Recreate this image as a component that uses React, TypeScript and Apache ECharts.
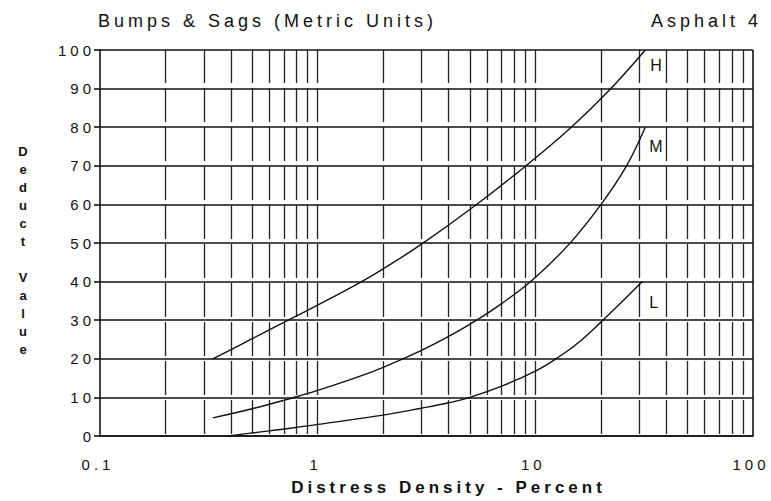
import React, { useEffect, useRef } from "react";
import * as echarts from "echarts";

const TITLE = "Bumps & Sags (Metric Units)";
const SUBTITLE = "Asphalt 4";
const X_NAME = "Distress Density - Percent";
const Y_NAME_LETTERS = ["D", "e", "d", "u", "c", "t", "", "V", "a", "l", "u", "e"];

const X_MIN = 0.1;
const X_MAX = 100;
const Y_MIN = 0;
const Y_MAX = 100;
const Y_STEP = 10;

// vertical dashed grid lines at 2..9 of each decade plus the decades
const GRID_X = [
  0.2, 0.3, 0.4, 0.5, 0.6, 0.7, 0.8, 0.9,
  1, 2, 3, 4, 5, 6, 7, 8, 9,
  10, 20, 30, 40, 50, 60, 70, 80, 90,
];

const SERIES_NAMES = ["H", "M", "L"];

const highCurve: [number, number][] = [
  [0.33, 20], [0.5, 25.2], [0.71, 29.6], [1, 33.9], [1.57, 39.8], [2, 43.3],
  [3, 49.7], [5.2, 59.4], [9, 69.9], [14.5, 79.8], [21.8, 89.5], [32, 100],
];
const mediumCurve: [number, number][] = [
  [0.33, 4.7], [0.5, 7.05], [0.79, 10.1], [1, 11.8], [1.5, 15.1], [2, 17.8],
  [3, 22.2], [4, 25.8], [5.4, 30.1], [7, 34.3], [9.7, 40.4], [14.4, 49.9],
  [19.8, 59.6], [26, 69.6], [32, 80],
];
const lowCurve: [number, number][] = [
  [0.39, 0], [0.5, 0.8], [0.75, 2.0], [1, 3.0], [2, 5.4], [3, 7.2], [4, 8.6],
  [5, 10], [7, 12.9], [10, 16.8], [12.6, 20.2], [15.85, 24.3], [20, 29.5],
  [25, 34.8], [31, 40],
];

const LABEL_OFFSETS: [number, number][] = [[0, 15], [0, 19], [0, 21]];
const LABEL_DIST = [5, 4, 7];

const FONT = "Liberation Sans";
const INK = "#111";

export default function App() {
  const ref = useRef<HTMLDivElement>(null);

  useEffect(() => {
    if (!ref.current) return;
    const chart = echarts.init(ref.current, undefined, { renderer: "svg" });
    const curves = [highCurve, mediumCurve, lowCurve];

    const series: any[] = curves.map((c, i) => ({
      name: SERIES_NAMES[i],
      type: "line",
      data: c,
      smooth: 0.4,
      symbol: "none",
      z: 5,
      lineStyle: { color: INK, width: 1.4 },
      endLabel: {
        show: true,
        formatter: SERIES_NAMES[i],
        distance: LABEL_DIST[i],
        offset: LABEL_OFFSETS[i],
        fontSize: 16,
        color: INK,
        fontFamily: FONT,
      },
    }));

    series[0].markLine = {
      silent: true,
      symbol: ["none", "none"],
      label: { show: false },
      animation: false,
      lineStyle: { color: "#222", width: 1.3, type: [34, 5], dashOffset: 36.5 },
      data: [
        ...GRID_X.map((v) => ({ xAxis: v })),
        { xAxis: X_MAX, lineStyle: { color: INK, width: 1.6, type: "solid" } },
      ],
    };

    chart.setOption({
      animation: false,
      textStyle: { fontFamily: FONT },
      grid: { left: 100, right: 18, top: 50, bottom: 60 },
      xAxis: {
        type: "log",
        logBase: 10,
        min: X_MIN,
        max: X_MAX,
        name: X_NAME,
        nameLocation: "middle",
        nameGap: 43,
        nameTextStyle: {
          fontSize: 17,
          fontWeight: "bold",
          color: INK,
          fontFamily: FONT,
          padding: [0, 0, 0, 44],
        },
        axisLine: { show: true, lineStyle: { color: INK, width: 1.6 } },
        axisTick: { show: false },
        splitLine: { show: false },
        axisLabel: {
          margin: 21,
          fontSize: 15,
          color: INK,
          padding: [0, 4, 0, 0],
          formatter: (v: number) => (v < 1 ? v.toFixed(1) : String(Math.round(v))),
        },
      },
      yAxis: {
        type: "value",
        min: Y_MIN,
        max: Y_MAX,
        interval: Y_STEP,
        axisLine: { show: true, lineStyle: { color: INK, width: 1.6 } },
        axisTick: { show: true, length: 6, lineStyle: { color: INK, width: 1.6 } },
        splitLine: { show: true, lineStyle: { color: INK, width: 1.6 } },
        axisLabel: { margin: 5, fontSize: 15, color: INK },
      },
      graphic: [
        {
          type: "text",
          x: 98,
          y: 21,
          style: {
            text: TITLE,
            fontSize: 18,
            fill: INK,
            fontFamily: FONT,
            align: "left",
            verticalAlign: "middle",
          },
        },
        {
          type: "text",
          x: 762,
          y: 21,
          style: {
            text: SUBTITLE,
            fontSize: 18,
            fill: INK,
            fontFamily: FONT,
            align: "right",
            verticalAlign: "middle",
          },
        },
        {
          type: "text",
          x: 25,
          y: 250,
          style: {
            text: Y_NAME_LETTERS.join("\n"),
            fontSize: 13,
            fontWeight: "bold",
            lineHeight: 18,
            fill: INK,
            fontFamily: FONT,
            align: "center",
            verticalAlign: "middle",
          },
        },
      ],
      series,
    });

    return () => chart.dispose();
  }, []);

  return (
    <div
      ref={ref}
      style={{
        position: "fixed",
        left: 0,
        top: 0,
        width: 771,
        height: 501,
        background: "#fff",
        letterSpacing: "4px",
      }}
    />
  );
}
